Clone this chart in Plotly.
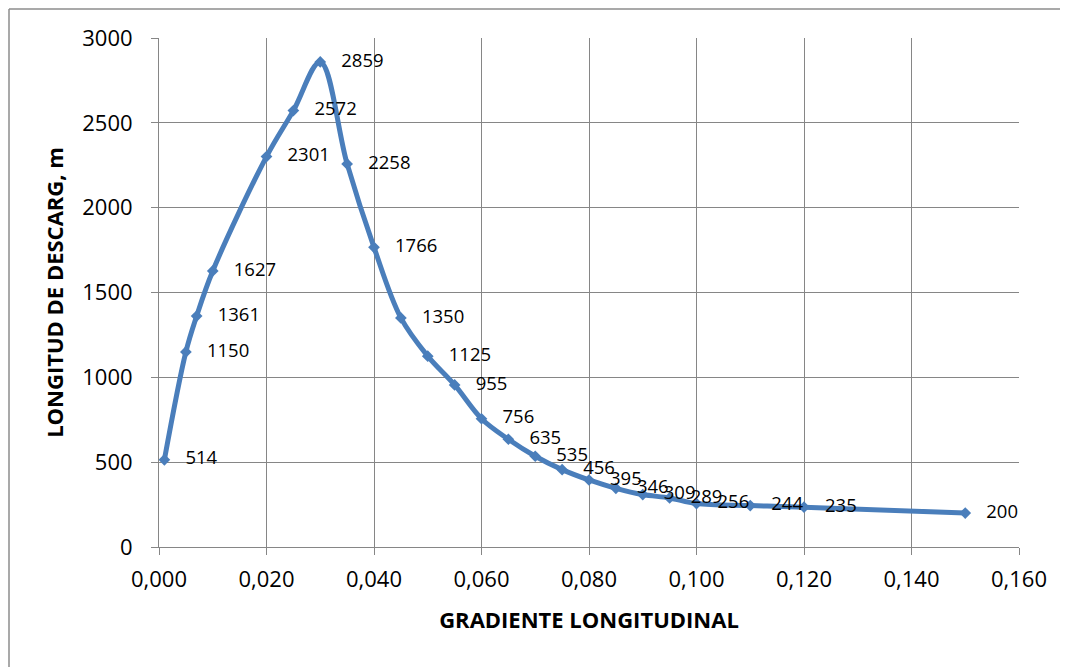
import plotly.graph_objects as go

gradiente = [0.001, 0.005, 0.007, 0.010, 0.020, 0.025, 0.030, 0.035, 0.040, 0.045,
             0.050, 0.055, 0.060, 0.065, 0.070, 0.075, 0.080, 0.085, 0.090, 0.095,
             0.100, 0.110, 0.120, 0.150]
longitud = [514, 1150, 1361, 1627, 2301, 2572, 2859, 2258, 1766, 1350,
            1125, 955, 756, 635, 535, 456, 395, 346, 309, 289,
            256, 244, 235, 200]
x_ticks = [0.0, 0.02, 0.04, 0.06, 0.08, 0.10, 0.12, 0.14, 0.16]
x_ticklabels = ["0,000", "0,020", "0,040", "0,060", "0,080", "0,100", "0,120", "0,140", "0,160"]
y_ticks = [0, 500, 1000, 1500, 2000, 2500, 3000]

line_color = "#4A7EBB"
grid_color = "#868686"
font_family = "Open Sans, Liberation Sans, sans-serif"

fig = go.Figure()
fig.add_trace(go.Scatter(
    x=gradiente, y=longitud,
    mode="lines+markers+text",
    line=dict(color=line_color, width=5, shape="spline", smoothing=1.0),
    marker=dict(symbol="diamond", size=9, color=line_color),
    text=["\u00a0\u00a0\u00a0" + str(v) for v in longitud],
    textposition="middle right",
    textfont=dict(family=font_family, size=18.5, color="#000000"),
    cliponaxis=False,
    showlegend=False,
))

fig.update_layout(
    width=1060, height=659,
    margin=dict(l=151, r=49, t=30, b=120),
    paper_bgcolor="white", plot_bgcolor="white",
    font=dict(family=font_family, color="#000000"),
    xaxis=dict(
        range=[0, 0.16], tickvals=x_ticks, ticktext=x_ticklabels,
        showgrid=True, gridcolor=grid_color, gridwidth=1,
        showline=True, linecolor=grid_color, linewidth=1,
        ticks="outside", ticklen=7, tickcolor=grid_color,
        tickfont=dict(size=22, family=font_family),
        ticklabelstandoff=6,
        zeroline=False,
        title=dict(text="<b>GRADIENTE LONGITUDINAL</b>", font=dict(size=22, family=font_family), standoff=20),
    ),
    yaxis=dict(
        range=[0, 3000], tickvals=y_ticks,
        showgrid=True, gridcolor=grid_color, gridwidth=1,
        showline=True, linecolor=grid_color, linewidth=1,
        ticks="outside", ticklen=7, tickcolor=grid_color,
        tickfont=dict(size=22, family=font_family),
        ticklabelstandoff=14,
        zeroline=False,
        title=dict(text="<b>LONGITUD DE DESCARG, m</b>", font=dict(size=22, family=font_family), standoff=12),
    ),
)

# outer chart border (left and top edges)
fig.add_shape(type="line", xref="paper", yref="paper",
              x0=-150/860, x1=-150/860, y0=1 + 29/509, y1=-0.3,
              line=dict(color="#8C8C8C", width=1.5), layer="below")
fig.add_shape(type="line", xref="paper", yref="paper",
              x0=-150/860, x1=1.1, y0=1 + 29/509, y1=1 + 29/509,
              line=dict(color="#8C8C8C", width=1.5), layer="below")

fig.write_html("out.html")
